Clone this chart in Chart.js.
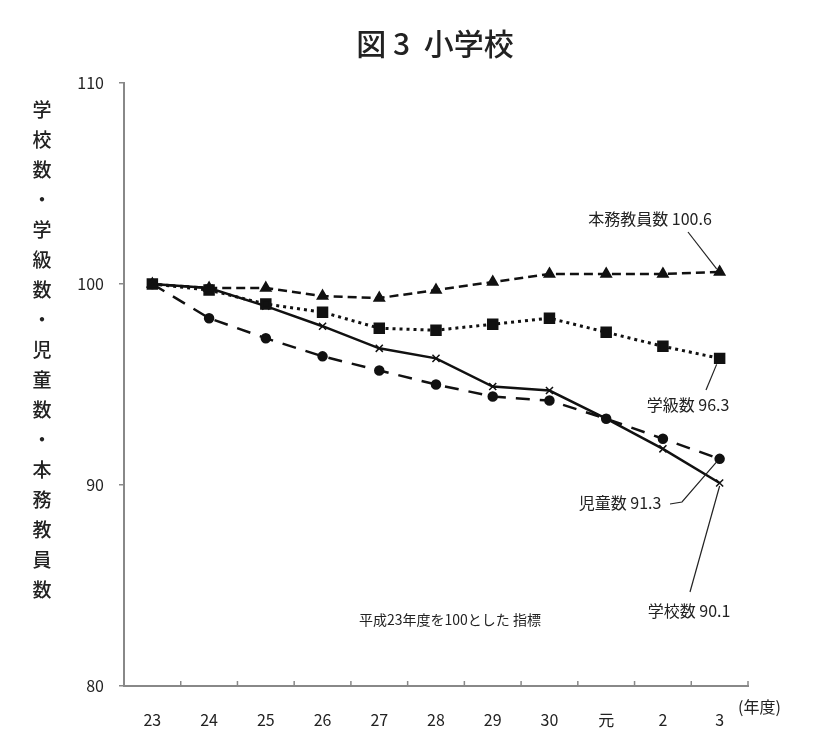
<!DOCTYPE html>
<html>
<head>
<meta charset="utf-8">
<script src="https://cdn.jsdelivr.net/npm/chart.js@4/dist/chart.umd.min.js"></script>
<style>
  html, body { margin: 0; padding: 0; background: #fff; }
  #wrap { width: 840px; height: 746px; }
</style>
</head>
<body>
<div id="wrap"><canvas id="c" width="840" height="746"></canvas></div>
<script>
// 平成23年度を100とした指標
const years = ['23', '24', '25', '26', '27', '28', '29', '30', '元', '2', '3'];
const schools = [100, 99.8, 98.9, 97.9, 96.8, 96.3, 94.9, 94.7, 93.3, 91.8, 90.1];
const classes = [100, 99.7, 99.0, 98.6, 97.8, 97.7, 98.0, 98.3, 97.6, 96.9, 96.3];
const pupils = [100, 98.3, 97.3, 96.4, 95.7, 95.0, 94.4, 94.2, 93.3, 92.3, 91.3];
const teachers = [100, 99.8, 99.8, 99.4, 99.3, 99.7, 100.1, 100.5, 100.5, 100.5, 100.6];
const yTicks = [80, 90, 100, 110];

const JP = '"Noto Sans CJK JP", sans-serif';
const NUM = '"Liberation Sans Narrow", "Noto Sans CJK JP", sans-serif';

const last = arr => arr[arr.length - 1];

const overlay = {
    id: 'overlay',
    afterDraw(chart) {
        const ctx = chart.ctx;
        const x = chart.scales.x, y = chart.scales.y;
        const bottom = chart.chartArea.bottom;
        ctx.save();

        // inward ticks on the category axis
        ctx.strokeStyle = '#888';
        ctx.lineWidth = 1.5;
        const band = (x.right - x.left) / years.length;
        for (let i = 1; i <= years.length; i++) {
            const px = x.left + band * i;
            ctx.beginPath();
            ctx.moveTo(px, bottom);
            ctx.lineTo(px, bottom - 5);
            ctx.stroke();
        }

        ctx.fillStyle = '#222';
        ctx.textBaseline = 'middle';

        // title
        ctx.font = '500 30px ' + JP;
        ctx.textAlign = 'center';
        ctx.fillText('図 3  小学校', 435, 44);

        // vertical y-axis title
        ctx.font = '500 19px ' + JP;
        const yTitle = '学校数・学級数・児童数・本務教員数';
        for (let i = 0; i < yTitle.length; i++) {
            ctx.fillText(yTitle[i], 42, 110 + i * 30);
        }

        // unit on x axis
        ctx.font = '16px ' + JP;
        ctx.textAlign = 'left';
        ctx.fillText('(年度)', 738, 707);

        // note
        ctx.font = '14px ' + JP;
        ctx.textAlign = 'center';
        ctx.fillText('平成23年度を100とした 指標', 450, 620);

        // end labels with leader lines
        const n = years.length - 1;
        const ex = x.getPixelForValue(n);
        ctx.strokeStyle = '#222';
        ctx.lineWidth = 1.2;
        ctx.font = '16px ' + JP;

        const line = (pts) => {
            ctx.beginPath();
            ctx.moveTo(pts[0][0], pts[0][1]);
            for (let k = 1; k < pts.length; k++) ctx.lineTo(pts[k][0], pts[k][1]);
            ctx.stroke();
        };

        const tY = y.getPixelForValue(last(teachers));
        line([[688, 232], [ex - 3, tY - 3]]);
        ctx.fillText('本務教員数 ' + last(teachers).toFixed(1), 650, 219);

        const cY = y.getPixelForValue(last(classes));
        line([[ex - 3, cY + 6], [706, 390]]);
        ctx.fillText('学級数 ' + last(classes).toFixed(1), 688, 405);

        const pY = y.getPixelForValue(last(pupils));
        line([[670, 504], [682, 502], [ex - 3, pY + 3]]);
        ctx.fillText('児童数 ' + last(pupils).toFixed(1), 620, 503);

        const sY = y.getPixelForValue(last(schools));
        line([[ex, sY + 3], [690, 592]]);
        ctx.fillText('学校数 ' + last(schools).toFixed(1), 689, 611);

        ctx.restore();
    }
};

new Chart(document.getElementById('c'), {
    type: 'line',
    data: {
        labels: years,
        datasets: [
            {
                label: '本務教員数',
                data: teachers,
                borderColor: '#111',
                backgroundColor: '#111',
                borderWidth: 2.5,
                borderDash: [9, 5],
                pointStyle: 'triangle',
                pointRadius: 5,
                tension: 0
            },
            {
                label: '学級数',
                data: classes,
                borderColor: '#111',
                backgroundColor: '#111',
                borderWidth: 3,
                borderDash: [3, 4],
                pointStyle: 'rect',
                pointRadius: 6,
                tension: 0
            },
            {
                label: '学校数',
                data: schools,
                borderColor: '#111',
                backgroundColor: '#111',
                borderWidth: 2.5,
                pointStyle: 'crossRot',
                pointRadius: 5,
                pointBorderWidth: 1.5,
                tension: 0
            },
            {
                label: '児童数',
                data: pupils,
                borderColor: '#111',
                backgroundColor: '#111',
                borderWidth: 2.5,
                borderDash: [14, 10],
                pointStyle: 'circle',
                pointRadius: 4,
                tension: 0
            }
        ]
    },
    options: {
        responsive: false,
        animation: false,
        layout: { padding: { top: 83, right: 92, left: 0, bottom: 0 } },
        plugins: {
            legend: { display: false },
            tooltip: { enabled: false },
            title: { display: false }
        },
        scales: {
            x: {
                offset: true,
                grid: { display: false },
                border: { display: true, color: '#888', width: 2 },
                ticks: { color: '#222', font: { family: NUM, size: 16 }, padding: 16, maxRotation: 0 },
                afterFit(scale) { scale.height = 60; }
            },
            y: {
                min: 80,
                max: 110,
                afterBuildTicks(scale) { scale.ticks = yTicks.map(v => ({ value: v })); },
                grid: { drawOnChartArea: false, drawTicks: true, tickLength: 5, color: '#888', lineWidth: 1.5 },
                border: { display: true, color: '#888', width: 2 },
                ticks: { color: '#222', font: { family: NUM, size: 16 }, padding: 15 },
                afterFit(scale) { scale.width = 124; }
            }
        }
    },
    plugins: [overlay]
});
</script>
</body>
</html>
